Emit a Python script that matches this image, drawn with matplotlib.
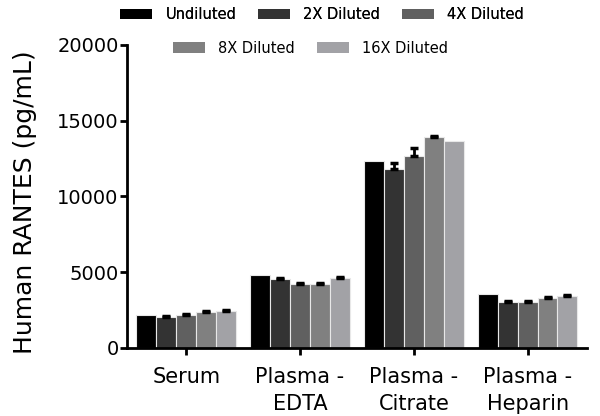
import numpy as np
import matplotlib
matplotlib.use('Agg')
import matplotlib.pyplot as plt
from matplotlib.patches import Patch

plt.rcParams['font.family'] = ['DejaVu Sans']

# podaci
groups = ['Serum', 'Plasma -\nEDTA', 'Plasma -\nCitrate', 'Plasma -\nHeparin']
series = ['Undiluted', '2X Diluted', '4X Diluted', '8X Diluted', '16X Diluted']
colors = ['#000000', '#333333', '#606060', '#808080', '#a2a2a6']

undiluted = [2180, 4820, 12340, 3540]
dil_2x = [2030, 4530, 11790, 3010]
dil_4x = [2200, 4200, 12670, 3010]
dil_8x = [2350, 4220, 13900, 3280]
dil_16x = [2440, 4640, 13640, 3410]

err_undiluted = [0, 0, 0, 0]
err_2x = [60, 60, 400, 60]
err_4x = [70, 60, 550, 60]
err_8x = [70, 60, 100, 60]
err_16x = [70, 60, 0, 70]

values = [undiluted, dil_2x, dil_4x, dil_8x, dil_16x]
errors = [err_undiluted, err_2x, err_4x, err_8x, err_16x]

fig = plt.figure(figsize=(6, 4.16), dpi=100)
ax = fig.add_axes([0.2117, 0.1635, 0.7663, 0.7285])

x = np.arange(len(groups))
w = 0.175
for i, (vals, errs) in enumerate(zip(values, errors)):
    pos = x + (i - 2) * w
    ax.bar(pos, vals, width=w, color=colors[i], edgecolor='#e8e8e8', linewidth=0.8, zorder=2)
    vals = np.array(vals)
    errs = np.array(errs)
    m = errs > 0
    # samo gornja greska
    ax.errorbar(pos[m], vals[m], yerr=[np.zeros(m.sum()), errs[m]], fmt='none',
                ecolor='black', elinewidth=2, capsize=3, capthick=2.5, zorder=3)

ax.set_xlim(-0.52, 3.52)
ax.set_ylim(0, 20000)
ax.set_yticks([0, 5000, 10000, 15000, 20000])
ax.set_xticks(x)
ax.set_xticklabels(groups, fontsize=15, linespacing=1.4)
ax.tick_params(axis='y', labelsize=14, width=2, length=5, pad=1)
ax.tick_params(axis='x', width=2, length=5, pad=9)
for s in ['top', 'right']:
    ax.spines[s].set_visible(False)
for s in ['left', 'bottom']:
    ax.spines[s].set_linewidth(2)
ax.set_ylabel('Human RANTES (pg/mL)', fontsize=18)
ax.yaxis.set_label_coords(-0.196, 0.482)

handles = [Patch(facecolor=c, edgecolor='none') for c in colors]
leg1 = fig.legend(handles[:3], series[:3], loc='center', bbox_to_anchor=(0.537, 0.965),
                  ncol=3, frameon=False, fontsize=10.5, handlelength=2.2, handleheight=0.75,
                  columnspacing=1.5, handletextpad=0.9)
fig.add_artist(leg1)
fig.legend(handles[3:], series[3:], loc='center', bbox_to_anchor=(0.517, 0.884),
           ncol=2, frameon=False, fontsize=10.5, handlelength=2.2, handleheight=0.75,
           columnspacing=1.5, handletextpad=0.9)

fig.savefig('out.png', dpi=100)
